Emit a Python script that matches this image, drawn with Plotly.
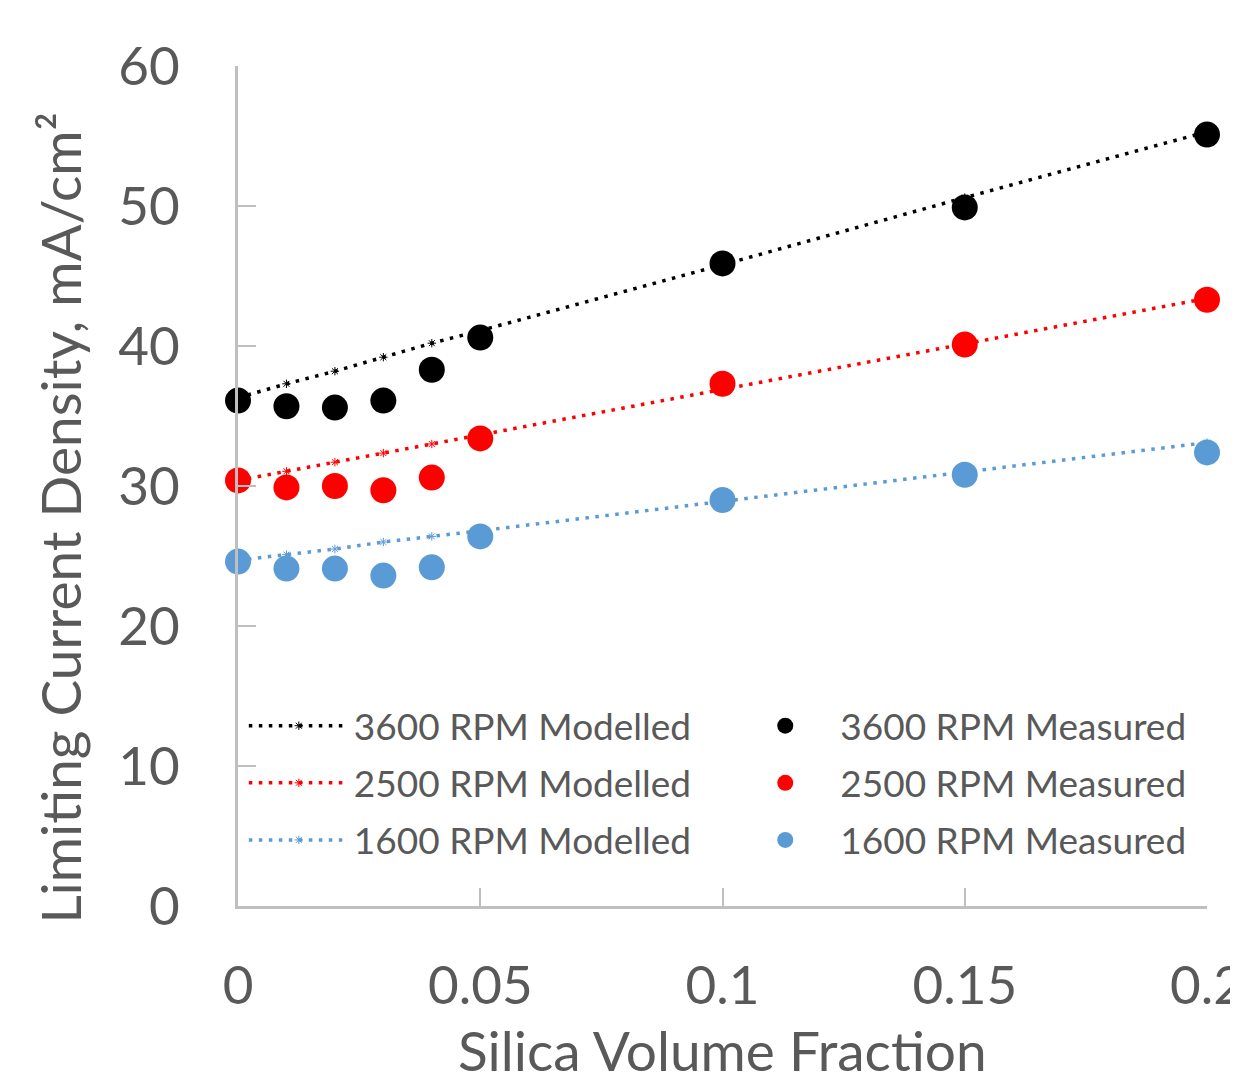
import plotly.graph_objects as go

x_vals = [0, 0.01, 0.02, 0.03, 0.04, 0.05, 0.1, 0.15, 0.2]

mod_3600 = [36.3, 37.3, 38.2, 39.2, 40.2, 41.1, 45.8, 50.6, 55.3]
mod_2500 = [30.4, 31.05, 31.7, 32.35, 33.0, 33.65, 36.9, 40.15, 43.4]
mod_1600 = [24.7, 25.1, 25.5, 26.0, 26.4, 26.8, 28.9, 31.0, 33.1]

meas_3600 = [36.1, 35.7, 35.6, 36.1, 38.3, 40.6, 45.9, 49.9, 55.1]
meas_2500 = [30.4, 29.9, 30.0, 29.7, 30.6, 33.4, 37.3, 40.1, 43.3]
meas_1600 = [24.6, 24.1, 24.1, 23.6, 24.2, 26.4, 29.0, 30.8, 32.4]

x_ticks = [0, 0.05, 0.1, 0.15, 0.2]
x_tick_text = ["0", "0.05", "0.1", "0.15", "0.2"]
y_ticks = [0, 10, 20, 30, 40, 50, 60]

series = [
    ("3600 RPM", mod_3600, meas_3600, "#000000"),
    ("2500 RPM", mod_2500, meas_2500, "#ff0000"),
    ("1600 RPM", mod_1600, meas_1600, "#5b9bd5"),
]

FONT = "Lato"
TXT = "#595959"
GRID = "#bfbfbf"

fig = go.Figure()
for name, mod, meas, col in series:
    fig.add_trace(go.Scatter(
        x=x_vals, y=mod, mode="lines+markers", name=name + " Modelled",
        legend="legend", legendgroup=name + "m",
        line=dict(color=col, width=3.5, dash="3.5px,6.5px"),
        marker=dict(symbol="asterisk-open", size=7, color=col, line=dict(width=1, color=col)),
        cliponaxis=False,
    ))
for name, mod, meas, col in series:
    fig.add_trace(go.Scatter(
        x=x_vals, y=meas, mode="markers", name=name + " Measured",
        legend="legend2", legendgroup=name + "s",
        marker=dict(symbol="circle", size=26, color=col),
        cliponaxis=False,
    ))

leg_common = dict(
    orientation="v", yanchor="top", xanchor="left",
    font=dict(size=37, color=TXT, family=FONT),
    itemwidth=100, tracegroupgap=6,
    bgcolor="rgba(0,0,0,0)",
)

fig.update_layout(
    width=1238, height=1077,
    margin=dict(l=230, r=39, t=58, b=179, autoexpand=False),
    paper_bgcolor="white", plot_bgcolor="white",
    font=dict(family=FONT, color=TXT, size=53),
    showlegend=True,
    legend=dict(x=0.006, y=0.251, **leg_common),
    legend2=dict(x=0.508, y=0.251, **leg_common),
    xaxis=dict(
        range=[0, 0.2], tickvals=x_ticks, ticktext=x_tick_text,
        showgrid=False, zeroline=False, automargin=False,
        showline=True, linecolor=GRID, linewidth=2.5,
        ticks="inside", ticklen=18, tickwidth=2, tickcolor=GRID,
        ticklabelstandoff=32, ticklabeloverflow="allow",
        tickfont=dict(size=53, color=TXT, family=FONT),
    ),
    yaxis=dict(
        range=[0, 60], tickvals=y_ticks,
        showgrid=False, zeroline=False, automargin=False,
        showline=True, linecolor=GRID, linewidth=2.5,
        ticks="inside", ticklen=18, tickwidth=2, tickcolor=GRID,
        ticklabelstandoff=45,
        tickfont=dict(size=53, color=TXT, family=FONT),
    ),
    annotations=[
        dict(text="Limiting Current Density, mA/cm²", textangle=-90,
             xref="paper", yref="paper", x=-0.184, y=0.462,
             xanchor="center", yanchor="middle", showarrow=False,
             font=dict(size=55, color=TXT, family=FONT)),
        dict(text="Silica Volume Fraction",
             xref="paper", yref="paper", x=0.5, y=-0.172,
             xanchor="center", yanchor="middle", showarrow=False,
             font=dict(size=55, color=TXT, family=FONT)),
    ],
)

fig.write_html("out.html")
